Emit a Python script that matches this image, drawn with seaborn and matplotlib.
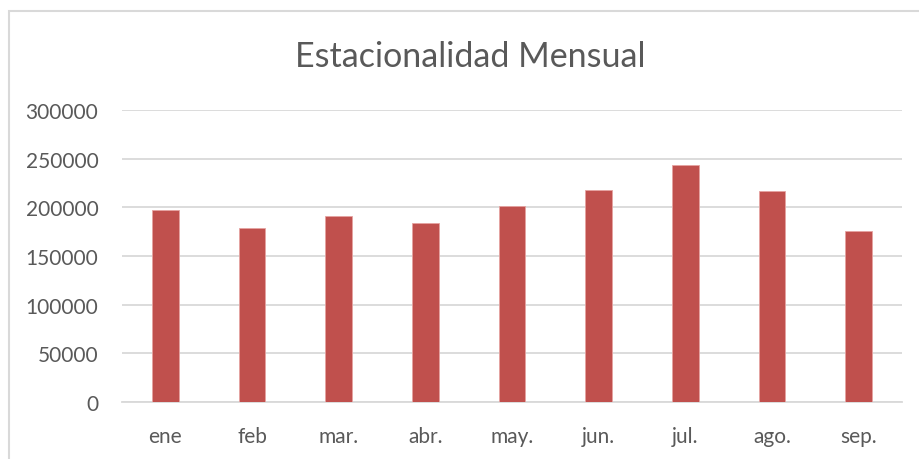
import matplotlib
matplotlib.use("Agg")
import matplotlib.pyplot as plt
from matplotlib.patches import Rectangle
import seaborn as sns
import pandas as pd

# datos
meses = ["ene", "feb", "mar.", "abr.", "may.", "jun.", "jul.", "ago.", "sep."]
ventas = [197000, 179000, 191000, 184000, 201000, 218000, 243000, 217000, 176000]
yticks = [0, 50000, 100000, 150000, 200000, 250000, 300000]

df = pd.DataFrame({"mes": meses, "ventas": ventas})

sns.set_style("white")
plt.rcParams["font.family"] = ["Lato", "DejaVu Sans"]
gris = "#595959"

fig = plt.figure(figsize=(9.2, 4.6), dpi=100)
ax = fig.add_axes([122/920, 1 - 403/460, 780/920, 292/460])

sns.barplot(data=df, x="mes", y="ventas", color="#C0504D", saturation=1,
            width=0.31, edgecolor="#E6A3A1", linewidth=0.6, ax=ax, zorder=3)

ax.set_ylim(0, 300000)
ax.set_yticks(yticks)
ax.set_yticklabels([str(v) for v in yticks])
ax.set_xlim(-0.5, len(meses) - 0.5)
ax.yaxis.grid(True, color="#D9D9D9", linewidth=1.3, zorder=0)
ax.set_axisbelow(True)
for s in ["top", "right", "left"]:
    ax.spines[s].set_visible(False)
ax.spines["bottom"].set_color("#D9D9D9")
ax.spines["bottom"].set_linewidth(1.3)
ax.tick_params(axis="both", length=0, labelsize=15, labelcolor=gris)
ax.tick_params(axis="y", pad=17)
ax.tick_params(axis="x", pad=17)
ax.set_xlabel("")
ax.set_ylabel("")

fig.text(470/920, 1 - 57/460, "Estacionalidad Mensual", ha="center", va="center",
         fontsize=24.5, color=gris)

# borde del area del grafico
fig.add_artist(Rectangle((9/920, -0.5), 2, 0.5 + 1 - 12/460, transform=fig.transFigure,
                         fill=False, edgecolor="#D9D9D9", linewidth=1.5))

fig.savefig("out.png", dpi=100)
